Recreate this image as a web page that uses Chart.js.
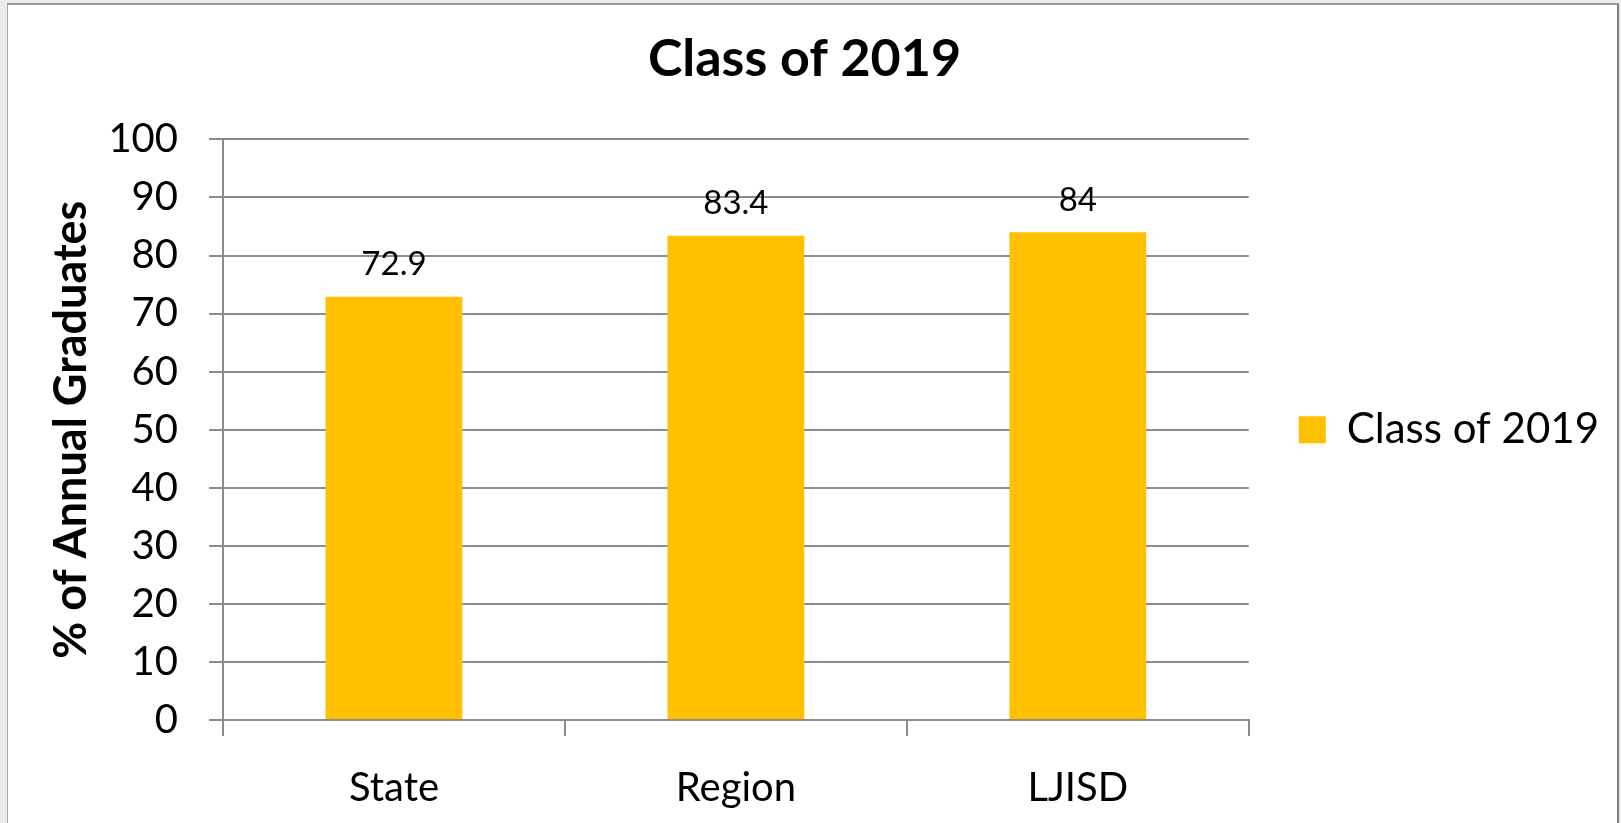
<!DOCTYPE html>
<html>
<head>
<meta charset="utf-8">
<script src="https://cdn.jsdelivr.net/npm/chart.js@4.4.1/dist/chart.umd.min.js"></script>
<style>
  html, body { margin: 0; padding: 0; background: #ebebeb; overflow: hidden; }
  #frame {
    position: absolute; left: 7px; top: 3px; width: 1609px; height: 900px;
    background: #fff; border-left: 1px solid #a8a8a8; border-top: 2px solid #999; border-right: 2px solid #808080;
  }
  #wrap { position: absolute; left: 0; top: 0; width: 1621px; height: 823px; }
</style>
</head>
<body>
<div id="frame"></div>
<div id="wrap"><canvas id="chart"></canvas></div>
<script>
const categories = ['State', 'Region', 'LJISD'];
const seriesName = 'Class of 2019';
const values = [72.9, 83.4, 84];
const yTicks = { min: 0, max: 100, step: 10 };

const font = "Lato, 'Open Sans', sans-serif";
const gridColor = '#8c8c8c';

// value labels above each bar
const barLabels = {
  id: 'barLabels',
  afterDatasetsDraw(chart) {
    const ctx = chart.ctx;
    const meta = chart.getDatasetMeta(0);
    ctx.save();
    ctx.fillStyle = '#000';
    ctx.font = '33px ' + font;
    ctx.textAlign = 'center'; ctx.textBaseline = 'middle';
    meta.data.forEach((bar, i) => {
      ctx.fillText(String(values[i]), bar.x, bar.y - 32);
    });
    ctx.restore();
  }
};

new Chart(document.getElementById('chart'), {
  type: 'bar',
  data: {
    labels: categories,
    datasets: [{
      label: seriesName,
      data: values,
      backgroundColor: '#ffc000',
      borderWidth: 0,
      barPercentage: 0.4,
      categoryPercentage: 1
    }]
  },
  options: {
    responsive: true, maintainAspectRatio: false,
    animation: false,
    layout: { padding: { top: 0, bottom: 11, left: 0, right: 12 } },
    plugins: {
      title: {
        display: true, text: seriesName, color: '#000',
        font: { family: font, size: 52, weight: 'bold' },
        padding: { top: 28, bottom: 49 }
      },
      legend: {
        display: true, position: 'right', fullSize: false,
        labels: {
          color: '#000', font: { family: font, size: 42 },
          boxWidth: 27, boxHeight: 27, padding: 50
        }
      },
      tooltip: { enabled: false }
    },
    scales: {
      y: {
        min: yTicks.min, max: yTicks.max,
        ticks: { stepSize: yTicks.step, color: '#000', font: { family: font, size: 40 }, padding: 31 },
        grid: { color: gridColor, lineWidth: 2, tickLength: 14 },
        border: { color: gridColor, width: 2 },
        title: {
          display: true, text: '% of Annual Graduates', color: '#000',
          font: { family: font, size: 45, weight: 'bold' },
          padding: { top: 44, bottom: 0 }
        },
        afterFit(s) { s.width = 223; }
      },
      x: {
        ticks: { color: '#000', font: { family: font, size: 40 }, padding: 28, maxRotation: 0 },
        grid: { drawOnChartArea: false, color: gridColor, lineWidth: 2, tickLength: 16 },
        border: { color: gridColor, width: 2 },
        afterFit(s) { s.height = 92; }
      }
    }
  },
  plugins: [barLabels]
});
</script>
</body>
</html>
